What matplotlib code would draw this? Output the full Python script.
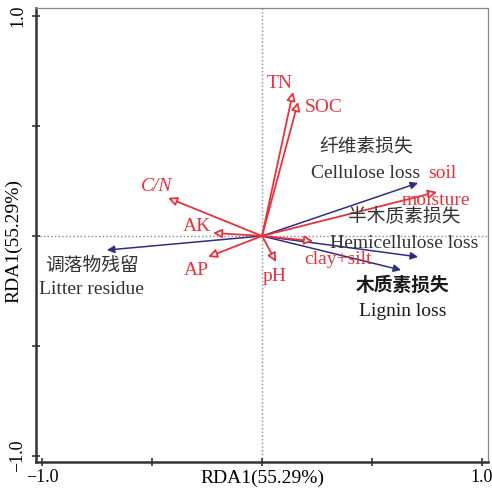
import matplotlib
matplotlib.use('Agg')
import matplotlib.pyplot as plt

# environmental factors (red, open heads)
env_names = ['TN', 'SOC', 'C/N', 'AK', 'AP', 'pH', 'clay+silt', 'soil\nmoisture']
env_x = [0.141, 0.164, -0.427, -0.223, -0.245, 0.064, 0.232, 0.795]
env_y = [0.655, 0.609, 0.173, 0.014, -0.095, -0.118, -0.023, 0.200]

# response variables (navy, filled heads)
resp_names = ['Cellulose loss', 'Hemicellulose loss', 'Lignin loss', 'Litter residue']
resp_cn = ['纤维素损失', '半木质素损失', '木质素损失', '调落物残留']
resp_x = [0.709, 0.709, 0.632, -0.705]
resp_y = [0.241, -0.095, -0.155, -0.064]

# label positions (data units), first line of each label
env_lx = [0.082, 0.282, -0.477, -0.295, -0.300, 0.059, 0.345, 0.818]
env_ly = [0.691, 0.586, 0.223, 0.045, -0.159, -0.186, -0.105, 0.286]
resp_lx = [0.472, 0.645, 0.641, -0.773]
resp_ly = [0.286, -0.032, -0.341, -0.245]
resp_cy = [0.405, 0.086, -0.223, -0.136]

red = '#e8323c'
navy = '#2e2f7f'
grey = '#333333'
serif = ['Liberation Serif', 'DejaVu Serif']
cjk = ['Noto Sans CJK SC', 'DejaVu Sans']

fig = plt.figure(figsize=(4.92, 4.93), dpi=100)
ax = fig.add_axes([0.0732, 0.0629, 0.9187, 0.9209])
ax.set_xlim(-1.027, 1.027)
ax.set_ylim(-1.027, 1.036)

ax.axhline(0, color='#888888', lw=1, ls=':', zorder=1)
ax.axvline(0, color='#888888', lw=1, ls=':', zorder=1)

for x, y in zip(resp_x, resp_y):
    ax.annotate('', xy=(x, y), xytext=(0, 0),
                arrowprops=dict(arrowstyle='-|>', color=navy, lw=1.1,
                                mutation_scale=11, shrinkA=0, shrinkB=0))
for x, y in zip(env_x, env_y):
    ax.annotate('', xy=(x, y), xytext=(0, 0),
                arrowprops=dict(arrowstyle='-|>', fc='white', ec=red, lw=1.3,
                                mutation_scale=13, shrinkA=0, shrinkB=0))

for i, name in enumerate(env_names):
    style = 'italic' if name == 'C/N' else 'normal'
    # multi-line names drawn line by line, second line shifted
    for j, part in enumerate(name.split('\n')):
        ax.text(env_lx[i] - 0.027 * j, env_ly[i] - 0.123 * j, part, color=red,
                fontsize=14, family=serif, style=style, ha='center', va='center')

for i, name in enumerate(resp_names):
    c = '#1a1a1a' if name == 'Lignin loss' else grey
    w = 'bold' if name == 'Lignin loss' else 'light'
    ax.text(resp_lx[i], resp_ly[i], name, color=c, fontsize=14, family=serif,
            ha='center', va='center')
    ax.text(resp_lx[i], resp_cy[i], resp_cn[i], color=c, fontsize=13.5, family=cjk,
            ha='center', va='center', weight=w)

# axes styling
for s in ['left', 'bottom']:
    ax.spines[s].set_linewidth(1.8)
    ax.spines[s].set_color('#333333')
for s in ['top', 'right']:
    ax.spines[s].set_linewidth(0.9)
    ax.spines[s].set_color('#888888')

ticks = [-1.0, -0.5, 0, 0.5, 1.0]
ax.set_xticks(ticks)
ax.set_xticklabels(['\u22121.0', '', '', '', '1.0'], family=serif, fontsize=13)
ax.set_yticks(ticks)
ax.set_yticklabels(['\u22121.0', '', '', '', '1.0'], family=serif, fontsize=13,
                   rotation=90, va='center')
ax.tick_params(direction='inout', length=6, width=1.2, color='#333333', pad=2)
ax.tick_params(axis='y', pad=4)

ax.set_xlabel('RDA1(55.29%)', family=serif, fontsize=14)
ax.xaxis.set_label_coords(0.5, -0.035)
ax.xaxis.label.set_va('center')
ax.set_ylabel('RDA1(55.29%)', family=serif, fontsize=14)
ax.yaxis.set_label_coords(-0.049, 0.487)
ax.yaxis.label.set_va('center')

fig.savefig('out.png', dpi=100)
